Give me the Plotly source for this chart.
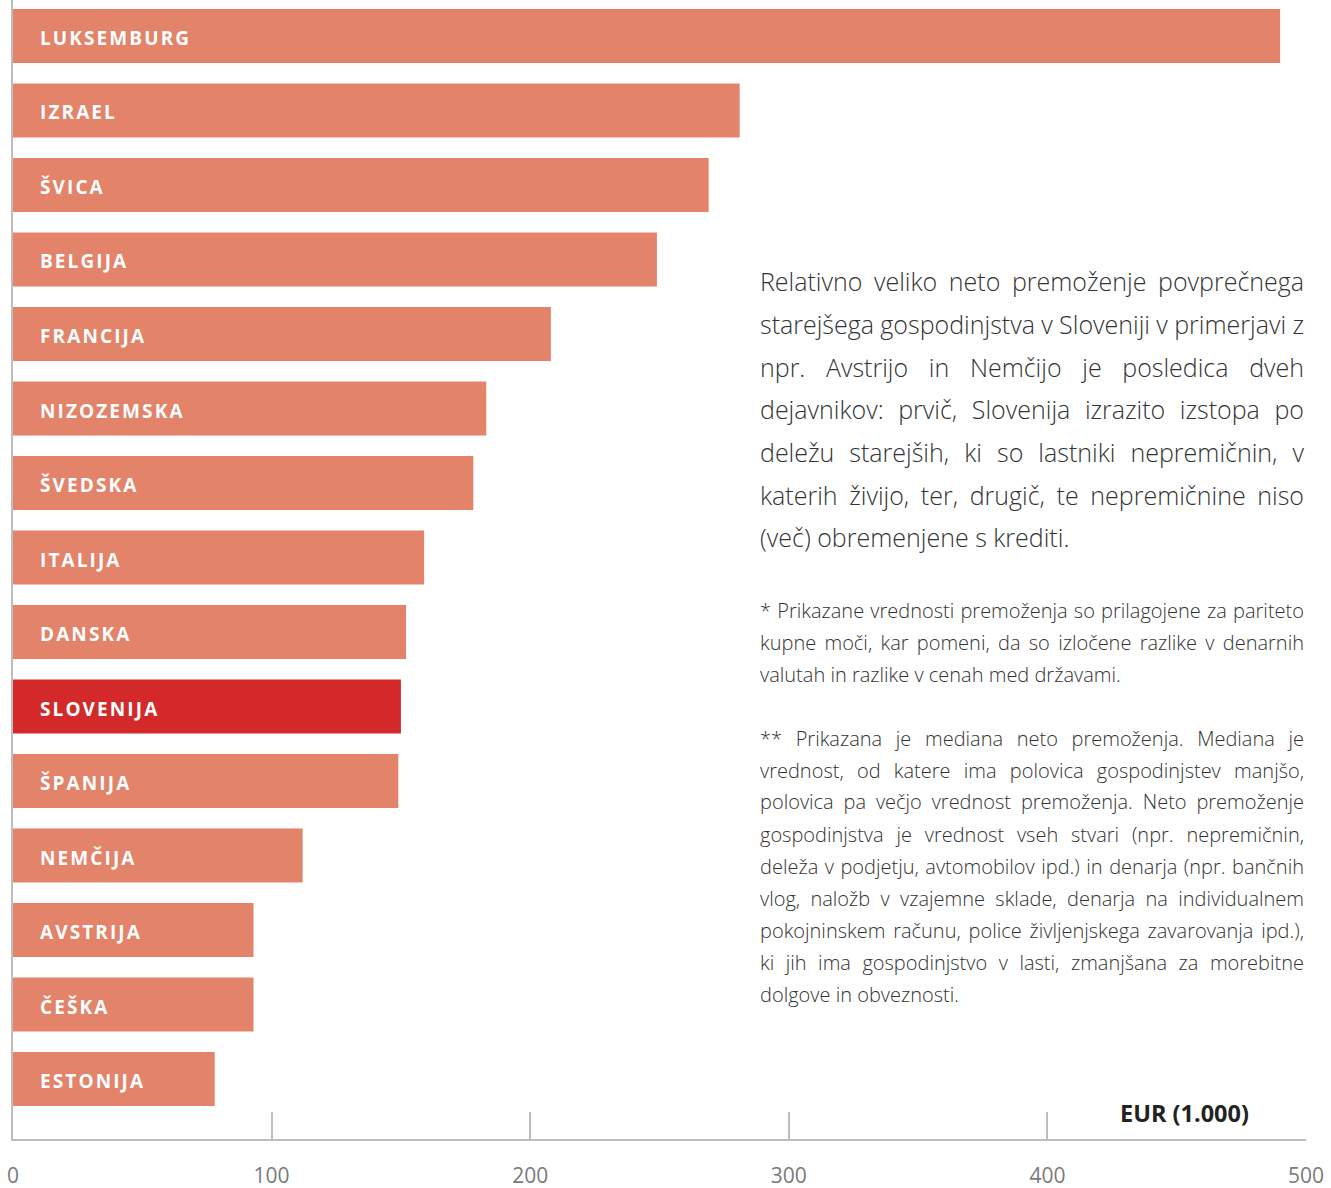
import json
import plotly.graph_objects as go

countries = ["LUKSEMBURG", "IZRAEL", "ŠVICA", "BELGIJA", "FRANCIJA", "NIZOZEMSKA",
             "ŠVEDSKA", "ITALIJA", "DANSKA", "SLOVENIJA", "ŠPANIJA", "NEMČIJA",
             "AVSTRIJA", "ČEŠKA", "ESTONIJA"]
values = [490, 281, 269, 249, 208, 183, 178, 159, 152, 150, 149, 112, 93, 93, 78]
highlight = "SLOVENIJA"

x_ticks = [0, 100, 200, 300, 400, 500]
unit_label = "EUR (1.000)"

main_lines = [
    "Relativno veliko neto premoženje povprečnega",
    "starejšega gospodinjstva v Sloveniji v primerjavi z",
    "npr. Avstrijo in Nemčijo je posledica dveh",
    "dejavnikov: prvič, Slovenija izrazito izstopa po",
    "deležu starejših, ki so lastniki nepremičnin, v",
    "katerih živijo, ter, drugič, te nepremičnine niso",
    "(več) obremenjene s krediti.",
]
note1_lines = [
    "* Prikazane vrednosti premoženja so prilagojene za pariteto",
    "kupne moči, kar pomeni, da so izločene razlike v denarnih",
    "valutah in razlike v cenah med državami.",
]
note2_lines = [
    "** Prikazana je mediana neto premoženja. Mediana je",
    "vrednost, od katere ima polovica gospodinjstev manjšo,",
    "polovica pa večjo vrednost premoženja. Neto premoženje",
    "gospodinjstva je vrednost vseh stvari (npr. nepremičnin,",
    "deleža v podjetju, avtomobilov ipd.) in denarja (npr. bančnih",
    "vlog, naložb v vzajemne sklade, denarja na individualnem",
    "pokojninskem računu, police življenjskega zavarovanja ipd.),",
    "ki jih ima gospodinjstvo v lasti, zmanjšana za morebitne",
    "dolgove in obveznosti.",
]

ORANGE = "#E2836A"
RED = "#D4292A"
GRID = "#BDBDBD"
FONT = "Open Sans"

W, H = 1331, 1188
ML, MR, MT, MB = 13, 25, 0, 49
PW = W - ML - MR
PH = H - MT - MB


def px_x(px):
    return (px - ML) / PW


def px_y(py):
    return 1 - (py - MT) / PH


colors = [RED if c == highlight else ORANGE for c in countries]

fig = go.Figure(go.Bar(
    x=values, y=countries, orientation="h",
    marker=dict(color=colors, line=dict(width=0)),
    hoverinfo="x+y",
))

annotations = []
label_idx = []
for c in countries:
    label_idx.append(len(annotations))
    annotations.append(dict(
        x=0, y=c, xref="x", yref="y", xanchor="left", yanchor="middle",
        xshift=25, yshift=-2, text=c, showarrow=False, align="left",
        font=dict(family=FONT, size=19, color="white", weight="bold"),
    ))

justify = []
TX0, TX1 = 758, 1304


def add_par(lines, ys, size):
    for i, (ln, yy) in enumerate(zip(lines, ys)):
        idx = len(annotations)
        annotations.append(dict(
            x=px_x(TX0), y=px_y(yy), xref="paper", yref="paper",
            xanchor="left", yanchor="middle", text=ln, showarrow=False,
            align="left", font=dict(family=FONT, size=size, color="#333333", weight=300),
        ))
        if i < len(lines) - 1:
            justify.append([idx, TX1 - TX0 - 2])


add_par(main_lines, [281, 324, 367, 409, 452, 495, 537], 25)
add_par(note1_lines, [610, 642, 674], 20)
add_par(note2_lines, [738, 770, 802, 834, 866, 898, 930, 962, 994], 20)

annotations.append(dict(
    x=px_x(1184), y=px_y(1113), xref="paper", yref="paper",
    xanchor="center", yanchor="middle", text=unit_label, showarrow=False,
    font=dict(family=FONT, size=23.5, color="#222222", weight="bold"),
))

n = len(countries)
fig.update_layout(
    width=W, height=H,
    margin=dict(l=ML, r=MR, t=MT, b=MB, pad=0),
    paper_bgcolor="white", plot_bgcolor="white",
    bargap=0.274,
    showlegend=False,
    annotations=annotations,
    xaxis=dict(
        range=[0, 500], tickvals=x_ticks, ticktext=[str(v) for v in x_ticks],
        showgrid=False, zeroline=False, showline=True, linecolor=GRID, linewidth=1.5,
        ticks="inside", ticklen=27, tickcolor=GRID, tickwidth=1.5,
        tickfont=dict(family=FONT, size=21, color="#7A7A7A"),
        ticklabelstandoff=17, automargin=False, fixedrange=True,
    ),
    yaxis=dict(
        categoryorder="array", categoryarray=countries[::-1],
        range=[-0.805, n - 1 + 0.483],
        showgrid=False, zeroline=False, showline=True, linecolor=GRID, linewidth=1.5,
        showticklabels=False, ticks="", automargin=False, fixedrange=True,
    ),
)

post = """
document.body.style.margin = '0';
document.body.style.padding = '0';
var gd = document.getElementById('{plot_id}');
var J = %s;
var L = %s;
function fixText(){
  L.forEach(function(i){
    var t = gd.querySelector('g.annotation[data-index="'+i+'"] text.annotation-text');
    if(t){ t.style.letterSpacing = '2.1px'; }
  });
  J.forEach(function(p){
    var t = gd.querySelector('g.annotation[data-index="'+p[0]+'"] text.annotation-text');
    if(!t) return;
    t.style.wordSpacing = '0px';
    var w = t.getComputedTextLength();
    var n = (t.textContent.match(/ /g) || []).length;
    if(n > 0){ t.style.wordSpacing = ((p[1] - w) / n) + 'px'; }
  });
}
fixText();
""" % (json.dumps(justify), json.dumps(label_idx))

fig.write_html("out.html", post_script=post, config={"displayModeBar": False})
